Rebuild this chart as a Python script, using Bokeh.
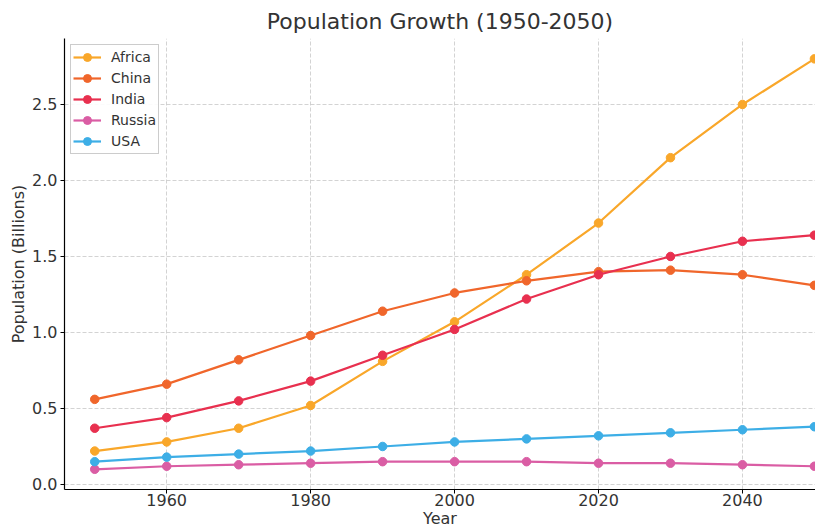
from bokeh.plotting import figure
from bokeh.models import FixedTicker, Range1d, Legend, LegendItem, NumeralTickFormatter
from bokeh.embed import file_html
from bokeh.resources import INLINE

years = [1950, 1960, 1970, 1980, 1990, 2000, 2010, 2020, 2030, 2040, 2050]
africa = [0.22, 0.28, 0.37, 0.52, 0.81, 1.07, 1.38, 1.72, 2.15, 2.50, 2.80]
china = [0.56, 0.66, 0.82, 0.98, 1.14, 1.26, 1.34, 1.40, 1.41, 1.38, 1.31]
india = [0.37, 0.44, 0.55, 0.68, 0.85, 1.02, 1.22, 1.38, 1.50, 1.60, 1.64]
russia = [0.10, 0.12, 0.13, 0.14, 0.15, 0.15, 0.15, 0.14, 0.14, 0.13, 0.12]
usa = [0.15, 0.18, 0.20, 0.22, 0.25, 0.28, 0.30, 0.32, 0.34, 0.36, 0.38]

names = ["Africa", "China", "India", "Russia", "USA"]
series = [africa, china, india, russia, usa]
colors = ["#F9A72A", "#F0662B", "#E8304F", "#DA5DA4", "#3DAEE6"]

x_ticks = [1960, 1980, 2000, 2020, 2040]
y_ticks = [0.0, 0.5, 1.0, 1.5, 2.0, 2.5]

FONT = "DejaVu Sans"

p = figure(width=815, height=530, output_backend="svg", toolbar_location=None,
           x_range=Range1d(1945.8, 2050.15), y_range=Range1d(-0.033, 2.934),
           min_border_left=64, min_border_top=38, min_border_right=0, min_border_bottom=41)

p.title.text = "Population Growth (1950-2050)"
p.title.align = "center"
p.title.text_font = FONT
p.title.text_font_size = "22px"
p.title.text_font_style = "normal"
p.title.text_color = "#333333"
p.title.offset = 0

p.outline_line_color = None
p.background_fill_color = "white"

items = []
for name, vals, c in zip(names, series, colors):
    r1 = p.line(years, vals, line_color=c, line_width=2.2)
    r2 = p.scatter(years, vals, size=8.5, fill_color=c, line_color=c)
    items.append(LegendItem(label=name, renderers=[r1, r2]))

legend = Legend(items=items, location="top_left", label_text_font=FONT,
                label_text_font_size="14px", label_text_color="#333333",
                border_line_color="#cccccc", border_line_alpha=1.0,
                background_fill_alpha=0.9, padding=2, spacing=1,
                glyph_width=28, glyph_height=20, margin=6, label_standoff=10,
                label_height=20)
p.add_layout(legend)

for ax in (p.xaxis[0], p.yaxis[0]):
    ax.axis_line_color = "black"
    ax.axis_line_width = 1.2
    ax.major_tick_in = 0
    ax.major_tick_out = 4
    ax.minor_tick_line_color = None
    ax.major_tick_line_color = "black"
    ax.major_label_text_font = FONT
    ax.major_label_text_font_size = "16px"
    ax.major_label_text_color = "#333333"
    ax.axis_label_text_font = FONT
    ax.axis_label_text_font_size = "16px"
    ax.axis_label_text_font_style = "normal"
    ax.axis_label_text_color = "#333333"

p.xaxis.ticker = FixedTicker(ticks=x_ticks)
p.yaxis.ticker = FixedTicker(ticks=y_ticks)
p.yaxis.formatter = NumeralTickFormatter(format="0.0")
p.xaxis.axis_label = "Year"
p.yaxis.axis_label = "Population (Billions)"
p.xaxis.axis_label_standoff = 0
p.yaxis.axis_label_standoff = 1
p.xaxis.major_label_standoff = 0
p.yaxis.major_label_standoff = 3

for g in (p.xgrid[0], p.ygrid[0]):
    g.grid_line_color = "#c8c8c8"
    g.grid_line_dash = "4 2"
    g.grid_line_width = 0.8

open("out.html", "w").write(file_html(p, INLINE))
